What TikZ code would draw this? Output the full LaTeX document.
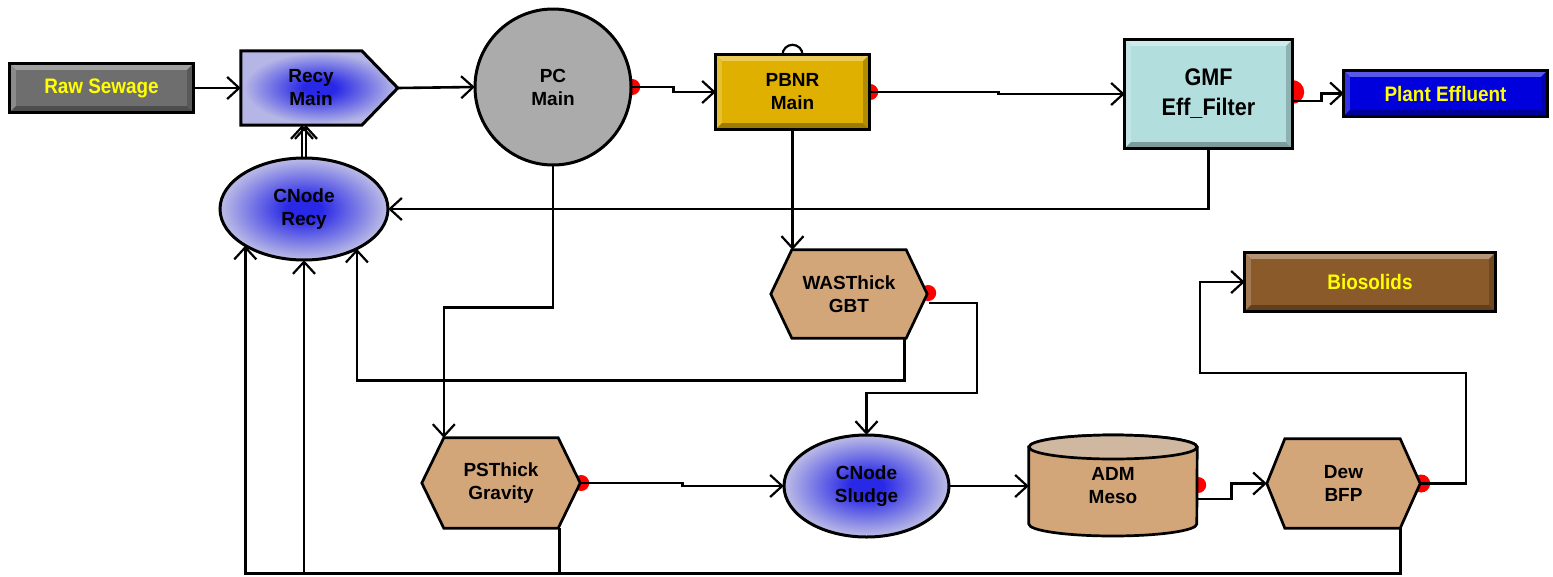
\documentclass[tikz,border=0pt]{standalone}
\usepackage{fontspec}
\setmainfont{Liberation Sans}
\newfontfamily\condfont{Liberation Sans}[FakeStretch=0.9]
\usetikzlibrary{arrows.meta,calc,shapes.geometric}
\definecolor{rawg}{HTML}{6E6E6E}
\definecolor{pbnrc}{HTML}{E0B000}
\definecolor{gmfc}{HTML}{B3DEDE}
\definecolor{effc}{HTML}{0000DD}
\definecolor{bioc}{HTML}{8B5A2B}
\definecolor{tanc}{HTML}{D3A67A}
\definecolor{admtop}{HTML}{D0B8A0}
\definecolor{lav}{HTML}{B6B6E6}
\definecolor{cblue}{HTML}{2828E6}
\definecolor{pcg}{HTML}{ABABAB}
\definecolor{txtyel}{HTML}{FFFF00}
\pgfdeclareradialshading{glow}{\pgfpoint{0bp}{0bp}}{color(0bp)=(cblue); color(5bp)=(cblue); color(24bp)=(lav); color(45bp)=(lav); color(50bp)=(lav!80!black)}
\pgfdeclareradialshading{pcball}{\pgfpoint{-5bp}{5bp}}{color(0bp)=(pcg); color(41bp)=(pcg); color(50bp)=(pcg!45!black)}
\pgfdeclarelayer{dots}
\pgfdeclarelayer{bg}
\pgfsetlayers{dots,bg,main}
\newcommand\bevelbox[2]{%
  \fill[#2] (#1.north west) rectangle (#1.south east);
  \fill[#2!65!white] (#1.north west) -- (#1.north east) -- ($(#1.north east)+(-6,6)$) -- ($(#1.north west)+(6,6)$) -- cycle;
  \fill[#2!80!white] (#1.north west) -- ($(#1.north west)+(6,6)$) -- ($(#1.south west)+(6,-6)$) -- (#1.south west) -- cycle;
  \fill[#2!70!black] (#1.south west) -- (#1.south east) -- ($(#1.south east)+(-6,-6)$) -- ($(#1.south west)+(6,-6)$) -- cycle;
  \fill[#2!80!black] (#1.north east) -- (#1.south east) -- ($(#1.south east)+(-6,-6)$) -- ($(#1.north east)+(-6,6)$) -- cycle;
  \draw[line width=3pt] (#1.north west) rectangle (#1.south east);
}
\newcommand\hexshape[3]{% node, left chamfer, right chamfer
  \filldraw[fill=tanc, line width=2.7pt, line join=miter] (#1.west) -- ($(#1.north west)+(#2,0)$) -- ($(#1.north east)+(-#3,0)$) -- (#1.east) -- ($(#1.south east)+(-#3,0)$) -- ($(#1.south west)+(#2,0)$) -- cycle;
}
\tikzset{
  lbl/.style={font=\bfseries\fontsize{19}{23}\selectfont, align=center, inner sep=0pt, text=black},
  big/.style={font=\condfont\bfseries\fontsize{21}{25}\selectfont, align=center, inner sep=0pt},
  arr/.style={line width=2.6pt, -{Straight Barb[length=12pt,width=22pt,line width=2.2pt]}},
  port/.style={fill=red}
}
\begin{document}
\begin{tikzpicture}[x=1pt,y=-1pt]
\useasboundingbox (0,0) rectangle (1553,576);
\begin{pgfonlayer}{dots}
  \fill[white] (0,0) rectangle (1553,576);
\end{pgfonlayer}
% nodes
\node[big, text=txtyel, minimum width=183, minimum height=48] (raw) at (101.5,88) {Raw Sewage};
\node[lbl, minimum width=140, minimum height=74] (recy) at (311,88) {Recy\\Main};
\coordinate (recytip) at ($(recy.west)+(157,0)$);
\node[lbl, ellipse, minimum width=168, minimum height=102] (cr) at (304,209) {CNode\\Recy};
\node[lbl, circle, minimum size=156] (pc) at (553,87) {PC\\Main};
\node[lbl, minimum width=153, minimum height=74] (pbnr) at (792.5,92) {PBNR\\Main};
\node[font=\condfont\bfseries\fontsize{24}{30}\selectfont, align=center, inner sep=0pt, minimum width=167, minimum height=108] (gmf) at (1208.5,94) {GMF\\Eff\_Filter};
\node[big, text=txtyel, minimum width=203, minimum height=45] (eff) at (1445.5,93.5) {Plant Effluent};
\node[lbl, minimum width=156, minimum height=88] (was) at (849,294) {WASThick\\GBT};
\node[lbl, minimum width=158, minimum height=90] (ps) at (501,483) {PSThick\\Gravity};
\node[lbl, ellipse, minimum width=165, minimum height=102] (cs) at (866.5,486) {CNode\\Sludge};
\node[lbl, minimum width=168, minimum height=101] (adm) at (1113,486) {ADM\\Meso};
\node[lbl, minimum width=153, minimum height=89] (dew) at (1343.5,483.5) {Dew\\BFP};
\node[big, text=txtyel, minimum width=250, minimum height=58] (bio) at (1370,282) {Biosolids};
% red output ports
\begin{pgfonlayer}{dots}
  \fill[port] ($(pc.east)+(1,0)$) circle[radius=8];
  \fill[port] ($(pbnr.east)+(1,0)$) circle[radius=8];
  \fill[port] ($(gmf.east)+(0,-2)$) circle[radius=12];
  \fill[port] ($(was.east)+(1,-1)$) circle[radius=8];
  \fill[port] ($(ps.east)+(1,0)$) circle[radius=8];
  \fill[port] ($(adm.east)+(1,-1)$) circle[radius=8];
  \fill[port] ($(dew.east)+(1,0)$) circle[radius=9];
\end{pgfonlayer}
% shapes
\begin{pgfonlayer}{bg}
  \bevelbox{raw}{rawg}
  \shadedraw[shading=glow, line width=3pt] (recy.north west) -- ($(recy.north west)+(121,0)$) -- (recytip) -- ($(recy.south west)+(121,0)$) -- (recy.south west) -- cycle;
  \shadedraw[shading=glow, line width=3pt] (cr.center) ellipse[x radius=84, y radius=51];
  \shadedraw[shading=pcball, line width=3pt] (pc.center) circle[radius=78];
  \bevelbox{pbnr}{pbnrc}
  \bevelbox{gmf}{gmfc}
  \bevelbox{eff}{effc}
  \bevelbox{bio}{bioc}
  \hexshape{was}{21}{21}
  \hexshape{ps}{22}{22}
  \hexshape{dew}{18}{20}
  \shadedraw[shading=glow, line width=3pt] (cs.center) ellipse[x radius=82.5, y radius=51];
  \filldraw[fill=tanc, line width=2.7pt] ($(adm.west)+(0,-39)$) -- ($(adm.west)+(0,38)$) arc[start angle=180, end angle=0, x radius=84, y radius=12] -- ($(adm.east)+(0,-39)$) arc[start angle=0, end angle=-180, x radius=84, y radius=12] -- cycle;
  \filldraw[fill=admtop, line width=2.7pt] ($(adm.center)+(0,-39)$) ellipse[x radius=84, y radius=12];
\end{pgfonlayer}
\draw[line width=2.2pt] ($(pbnr.north)+(-10,0)$) arc[start angle=180, end angle=360, radius=10];
% connectors
\draw[arr] (raw.east) -- (recy.west);
\draw[arr] (recytip) -- (pc.west);
\draw[arr] (pc.east) -- ++(42,0) |- (pbnr.west);
\draw[arr] (pbnr.east) -- ++(129,0) |- (gmf.west);
\draw[arr] ($(gmf.east)+(0,7)$) -- ++(29,0) |- (eff.west);
\draw[arr] (gmf.south) |- (cr.east);
\draw[arr] (pc.south) -- ++(0,142) -| ($(ps.north west)+(22,0)$);
\draw[arr] (pbnr.south) -- (pbnr.south |- was.north);
\draw[arr] ($(was.east)+(2,9)$) -| ($(cs.north)+(110.5,-42)$) -| (cs.north);
\draw[arr] ($(was.south east)+(-23,0)$) -- ++(0,42) -| (cr.-37);
\draw[arr] (ps.east) -- ++(102,0) |- (cs.west);
\draw[arr] ($(ps.south east)+(-21,0)$) -- ++(0,45) -| (cr.south);
\draw[arr] (cs.east) -- (cs.east -| adm.west);
\draw[arr] ($(adm.east)+(0,13)$) -- ++(34,0) |- (dew.west);
\draw[arr] (dew.east) -| ($(bio.west)+(221,91)$) -| ($(bio.west)+(-45,0)$) -- (bio.west);
\draw[arr] ($(dew.south east)+(-20,0)$) -- ++(0,45) -| (cr.212.5);
\draw[arr] ($(cr.north)+(-2,0)$) -- ($(cr.north |- recy.south)+(-2,0)$);
\draw[arr] ($(cr.north)+(2,0)$) -- ($(cr.north |- recy.south)+(2,0)$);
\end{tikzpicture}
\end{document}
